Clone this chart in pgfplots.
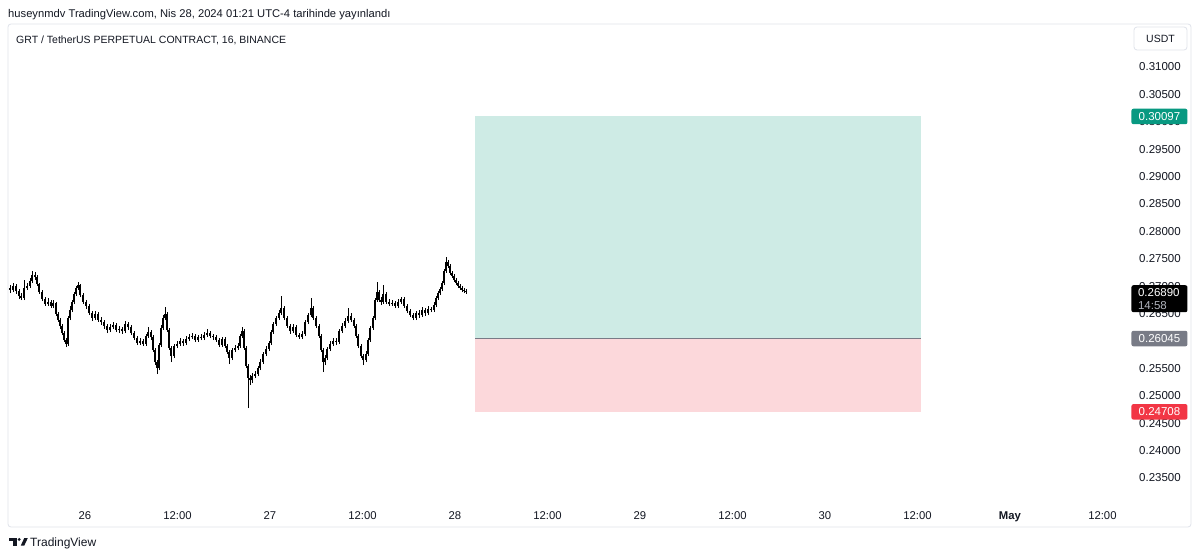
\documentclass[border=0pt]{standalone}
\usepackage{pgfplots}
\usepackage{pgfplotstable}
\usepackage{fontspec}
\setmainfont{Liberation Sans}
\pgfplotsset{compat=1.18}
\definecolor{tgtfill}{RGB}{206,235,229}
\definecolor{stopfill}{RGB}{252,216,219}
\definecolor{entrygray}{RGB}{120,123,134}
\definecolor{tagred}{RGB}{242,54,69}
\definecolor{taggreen}{RGB}{8,153,129}
\definecolor{txt}{RGB}{19,23,34}
\definecolor{frame}{RGB}{224,227,235}
\definecolor{subgray}{RGB}{178,181,190}

\pgfplotstableread{
t o h l c
-9.73 0.26967 0.27022 0.26876 0.26931
-9.34 0.26931 0.27058 0.26894 0.27004
-8.95 0.27004 0.27040 0.26858 0.26912
-8.56 0.26912 0.26949 0.26766 0.26821
-8.30 0.26821 0.26876 0.26748 0.26785
-7.91 0.26785 0.27113 0.26748 0.26967
-7.52 0.26967 0.27058 0.26931 0.27004
-7.14 0.27004 0.27150 0.26967 0.27095
-6.88 0.27095 0.27277 0.27058 0.27204
-6.49 0.27204 0.27259 0.27113 0.27168
-6.23 0.27168 0.27204 0.27004 0.27040
-5.97 0.27040 0.27058 0.26858 0.26894
-5.58 0.26894 0.26931 0.26730 0.26766
-5.19 0.26766 0.26803 0.26639 0.26675
-4.80 0.26675 0.26785 0.26639 0.26712
-4.41 0.26712 0.26748 0.26602 0.26639
-4.15 0.26639 0.26748 0.26602 0.26693
-3.76 0.26693 0.26712 0.26456 0.26493
-3.50 0.26493 0.26529 0.26347 0.26383
-3.24 0.26383 0.26420 0.26219 0.26274
-2.98 0.26274 0.26310 0.26109 0.26146
-2.72 0.26146 0.26182 0.25982 0.26018
-2.47 0.26018 0.26055 0.25890 0.25945
-2.21 0.25945 0.26456 0.25909 0.26420
-1.95 0.26420 0.26639 0.26383 0.26566
-1.69 0.26566 0.26748 0.26529 0.26712
-1.43 0.26712 0.26894 0.26675 0.26858
-1.17 0.26858 0.27004 0.26821 0.26967
-0.91 0.26967 0.27077 0.26931 0.27022
-0.65 0.27022 0.27040 0.26803 0.26839
-0.26 0.26839 0.26876 0.26675 0.26712
0.13 0.26712 0.26748 0.26584 0.26639
0.52 0.26639 0.26675 0.26474 0.26511
0.91 0.26511 0.26547 0.26365 0.26420
1.30 0.26420 0.26547 0.26383 0.26493
1.69 0.26493 0.26529 0.26347 0.26383
2.08 0.26383 0.26438 0.26292 0.26347
2.47 0.26347 0.26383 0.26219 0.26274
2.85 0.26274 0.26310 0.26146 0.26201
3.24 0.26201 0.26310 0.26164 0.26255
3.63 0.26255 0.26347 0.26219 0.26292
4.02 0.26292 0.26328 0.26164 0.26201
4.41 0.26201 0.26274 0.26146 0.26219
4.80 0.26219 0.26255 0.26128 0.26182
5.19 0.26182 0.26365 0.26146 0.26310
5.58 0.26310 0.26347 0.26201 0.26255
5.97 0.26255 0.26292 0.26109 0.26146
6.36 0.26146 0.26182 0.26018 0.26055
6.75 0.26055 0.26091 0.25927 0.25963
7.14 0.25963 0.26055 0.25927 0.26000
7.52 0.26000 0.26036 0.25909 0.25945
7.91 0.25945 0.26128 0.25909 0.26091
8.17 0.26091 0.26255 0.26055 0.26164
8.56 0.26164 0.26201 0.26018 0.26073
8.82 0.26073 0.26109 0.25799 0.25836
9.08 0.25836 0.25872 0.25562 0.25617
9.34 0.25617 0.25653 0.25398 0.25507
9.60 0.25507 0.25963 0.25471 0.25927
9.86 0.25927 0.26292 0.25890 0.26237
10.12 0.26237 0.26474 0.26201 0.26420
10.38 0.26420 0.26620 0.26383 0.26493
10.64 0.26493 0.26529 0.26164 0.26201
10.90 0.26201 0.26237 0.25836 0.25872
11.16 0.25872 0.25909 0.25617 0.25726
11.55 0.25726 0.25945 0.25690 0.25909
11.94 0.25909 0.26000 0.25872 0.25945
12.33 0.25945 0.26055 0.25909 0.26000
12.71 0.26000 0.26036 0.25909 0.25963
13.10 0.25963 0.26091 0.25927 0.26036
13.49 0.26036 0.26128 0.26000 0.26073
13.88 0.26073 0.26146 0.26036 0.26091
14.27 0.26091 0.26128 0.25982 0.26018
14.66 0.26018 0.26109 0.25982 0.26073
15.05 0.26073 0.26128 0.26018 0.26055
15.44 0.26055 0.26164 0.26018 0.26109
15.83 0.26109 0.26219 0.26073 0.26146
16.22 0.26146 0.26182 0.26055 0.26091
16.61 0.26091 0.26128 0.26018 0.26073
17.00 0.26073 0.26109 0.25982 0.26018
17.39 0.26018 0.26055 0.25890 0.25927
17.77 0.25927 0.26073 0.25890 0.26036
18.16 0.26036 0.26073 0.25872 0.25909
18.42 0.25909 0.25945 0.25763 0.25799
18.68 0.25799 0.25836 0.25580 0.25690
19.07 0.25690 0.25872 0.25653 0.25836
19.46 0.25836 0.25927 0.25799 0.25872
19.85 0.25872 0.25963 0.25836 0.25909
20.11 0.25909 0.26128 0.25872 0.26091
20.37 0.26091 0.26255 0.26055 0.26182
20.63 0.26182 0.26219 0.25836 0.25872
20.89 0.25872 0.25909 0.25507 0.25544
21.15 0.25544 0.25580 0.24777 0.25325
21.41 0.25325 0.25379 0.25197 0.25288
21.67 0.25288 0.25416 0.25233 0.25361
22.06 0.25361 0.25452 0.25325 0.25398
22.45 0.25398 0.25544 0.25361 0.25507
22.70 0.25507 0.25671 0.25471 0.25617
23.09 0.25617 0.25799 0.25580 0.25763
23.48 0.25763 0.25909 0.25726 0.25854
23.87 0.25854 0.26000 0.25817 0.25963
24.13 0.25963 0.26201 0.25927 0.26164
24.39 0.26164 0.26347 0.26128 0.26310
24.78 0.26310 0.26456 0.26274 0.26420
25.17 0.26420 0.26566 0.26383 0.26511
25.43 0.26511 0.26821 0.26474 0.26602
25.82 0.26602 0.26639 0.26383 0.26420
26.21 0.26420 0.26456 0.26237 0.26274
26.60 0.26274 0.26310 0.26128 0.26182
26.99 0.26182 0.26310 0.26146 0.26255
27.38 0.26255 0.26292 0.26073 0.26109
27.76 0.26109 0.26146 0.26036 0.26073
28.15 0.26073 0.26182 0.26036 0.26128
28.54 0.26128 0.26383 0.26091 0.26347
28.93 0.26347 0.26511 0.26310 0.26474
29.32 0.26474 0.26785 0.26438 0.26602
29.58 0.26602 0.26639 0.26383 0.26420
29.97 0.26420 0.26456 0.26237 0.26274
30.36 0.26274 0.26310 0.26055 0.26091
30.62 0.26091 0.26128 0.25799 0.25836
30.88 0.25836 0.25872 0.25434 0.25617
31.14 0.25617 0.25744 0.25562 0.25690
31.40 0.25690 0.25890 0.25653 0.25854
31.79 0.25854 0.26000 0.25817 0.25945
32.18 0.25945 0.26055 0.25909 0.26000
32.56 0.26000 0.26055 0.25927 0.25982
32.95 0.25982 0.26219 0.25945 0.26182
33.34 0.26182 0.26328 0.26146 0.26274
33.73 0.26274 0.26420 0.26237 0.26365
34.12 0.26365 0.26602 0.26328 0.26456
34.51 0.26456 0.26511 0.26347 0.26383
34.90 0.26383 0.26420 0.26237 0.26274
35.16 0.26274 0.26310 0.26055 0.26091
35.42 0.26091 0.26128 0.25872 0.25909
35.81 0.25909 0.25945 0.25690 0.25726
36.07 0.25726 0.25763 0.25562 0.25653
36.46 0.25653 0.25817 0.25617 0.25763
36.72 0.25763 0.26055 0.25726 0.26018
36.98 0.26018 0.26274 0.25982 0.26237
37.37 0.26237 0.26456 0.26201 0.26420
37.62 0.26420 0.26785 0.26383 0.26748
37.88 0.26748 0.27077 0.26712 0.26894
38.14 0.26894 0.26931 0.26712 0.26748
38.40 0.26748 0.26803 0.26657 0.26712
38.66 0.26712 0.27022 0.26675 0.26858
39.05 0.26858 0.26894 0.26675 0.26712
39.44 0.26712 0.26766 0.26639 0.26675
39.83 0.26675 0.26748 0.26639 0.26693
40.22 0.26693 0.26730 0.26602 0.26639
40.61 0.26639 0.26766 0.26602 0.26712
41.00 0.26712 0.26803 0.26675 0.26766
41.39 0.26766 0.26803 0.26602 0.26639
41.78 0.26639 0.26675 0.26511 0.26547
42.17 0.26547 0.26584 0.26438 0.26474
42.55 0.26474 0.26511 0.26383 0.26420
42.94 0.26420 0.26547 0.26383 0.26511
43.33 0.26511 0.26566 0.26420 0.26474
43.72 0.26474 0.26620 0.26438 0.26566
44.11 0.26566 0.26602 0.26456 0.26511
44.50 0.26511 0.26639 0.26474 0.26584
44.89 0.26584 0.26620 0.26529 0.26566
45.28 0.26566 0.26712 0.26529 0.26657
45.54 0.26657 0.26821 0.26620 0.26785
45.80 0.26785 0.26912 0.26748 0.26876
46.06 0.26876 0.26985 0.26839 0.26949
46.32 0.26949 0.27095 0.26912 0.27058
46.58 0.27058 0.27314 0.27022 0.27277
46.84 0.27277 0.27533 0.27241 0.27442
47.10 0.27442 0.27478 0.27332 0.27369
47.36 0.27369 0.27405 0.27204 0.27241
47.61 0.27241 0.27277 0.27150 0.27186
47.87 0.27186 0.27223 0.27077 0.27113
48.13 0.27113 0.27150 0.27022 0.27058
48.39 0.27058 0.27095 0.26967 0.27004
48.65 0.27004 0.27040 0.26931 0.26967
48.91 0.26967 0.27004 0.26894 0.26931
49.17 0.26931 0.26967 0.26876 0.26912
49.43 0.26912 0.26949 0.26858 0.26890
}\candles

\begin{document}
\begin{tikzpicture}[font=\fontsize{11.5}{13}\selectfont]
\useasboundingbox (0,0) rectangle (1200pt,558pt);
\fill[white] (0,0) rectangle (1200pt,558pt);
% pane frame
\draw[frame, line width=0.8pt, rounded corners=3pt] (8pt,31pt) rectangle (1191pt,534pt);
% header
\node[anchor=base west, inner sep=0pt, text=txt, font=\fontsize{11.2}{13}\selectfont] at (8pt,540pt)
  {huseynmdv TradingView.com, Nis 28, 2024 01:21 UTC-4 tarihinde yayınlandı};
\node[anchor=base west, inner sep=0pt, text=txt, font=\fontsize{10.5}{12}\selectfont] at (16pt,514.5pt)
  {GRT / TetherUS PERPETUAL CONTRACT, 16, BINANCE};
% USDT button
\draw[frame, line width=0.8pt, rounded corners=3pt] (1134pt,508pt) rectangle (1187pt,531pt);
\node[text=txt, font=\fontsize{10.5}{12}\selectfont] at (1160.5pt,519.5pt) {USDT};
% footer logo
\fill[txt] (9pt,20pt) rectangle (16.5pt,17pt);
\fill[txt] (13.3pt,20pt) rectangle (16.5pt,12.5pt);
\fill[txt] (19.2pt,18.6pt) circle (1.6pt);
\fill[txt] (20.8pt,12.5pt) -- (24.3pt,20pt) -- (27.8pt,20pt) -- (24.3pt,12.5pt) -- cycle;
\node[anchor=base west, inner sep=0pt, text=txt, font=\fontsize{12}{14}\selectfont] at (30pt,11.5pt) {TradingView};

\begin{axis}[
  at={(8pt,58pt)}, anchor=south west,
  width=1115pt, height=475pt, scale only axis,
  xmin=-9.99, xmax=134.67,
  ymin=0.23099, ymax=0.31766,
  clip=false,
  axis line style={draw=none},
  tick style={draw=none},
  major tick length=0pt,
  xtick={0,12,24,36,48,60,72,84,96,108,120,132},
  xticklabels={26,12:00,27,12:00,28,12:00,29,12:00,30,12:00,\textbf{May},12:00},
  x tick label style={anchor=base, yshift=-19pt, inner sep=0pt, text=txt, font=\fontsize{11.3}{13}\selectfont},
  ytick={0.235,0.240,0.245,0.250,0.255,0.260,0.265,0.270,0.275,0.280,0.285,0.290,0.295,0.300,0.305,0.310},
  ytick pos=right,
  yticklabel pos=right,
  /pgf/number format/assume math mode=true,
  y tick label style={anchor=west, xshift=16pt, inner sep=0pt, text=txt,
    font=\fontsize{11.5}{13}\selectfont,
    /pgf/number format/.cd, fixed, fixed zerofill, precision=5},
  scaled y ticks=false,
]
% position tool
\addplot[fill=tgtfill, draw=none, forget plot] coordinates
  {(50.60,0.26045) (108.46,0.26045) (108.46,0.30097) (50.60,0.30097)} -- cycle;
\addplot[fill=stopfill, draw=none, forget plot] coordinates
  {(50.60,0.24708) (108.46,0.24708) (108.46,0.26045) (50.60,0.26045)} -- cycle;
\addplot[entrygray, line width=1pt, forget plot] coordinates {(50.60,0.26045) (108.46,0.26045)};
% wicks
\addplot[draw=none, mark=none, forget plot,
  error bars/.cd, y dir=plus, y explicit, error mark=none,
  error bar style={draw=black, line width=0.6pt}]
  table[x=t, y=l, y error plus expr={\thisrow{h}-\thisrow{l}}] {\candles};
% bodies
\addplot[draw=none, mark=none, forget plot,
  error bars/.cd, y dir=plus, y explicit, error mark=none,
  error bar style={draw=black, line width=1.6pt}]
  table[x=t, y expr={min(\thisrow{o},\thisrow{c})},
        y error plus expr={max(abs(\thisrow{c}-\thisrow{o}),0.00009)}] {\candles};
% price tags
\node[fill=taggreen, text=white, inner sep=0pt, minimum width=56pt, minimum height=15.5pt, rounded corners=2pt]
  at (axis cs:139.4,0.30097) {0.30097};
\node[fill=black, inner sep=0pt, minimum width=56pt, minimum height=27pt, rounded corners=2pt, yshift=-6.5pt]
  at (axis cs:139.4,0.26890) {};
\node[text=white, inner sep=0pt, anchor=west, xshift=0pt] at (axis cs:136.6,0.26890) {0.26890};
\node[text=subgray, inner sep=0pt, anchor=west, yshift=-13pt] at (axis cs:136.6,0.26890) {14:58};
\node[fill=entrygray, text=white, inner sep=0pt, minimum width=56pt, minimum height=15.5pt, rounded corners=2pt]
  at (axis cs:139.4,0.26045) {0.26045};
\node[fill=tagred, text=white, inner sep=0pt, minimum width=56pt, minimum height=15.5pt, rounded corners=2pt]
  at (axis cs:139.4,0.24708) {0.24708};
\end{axis}
\end{tikzpicture}
\end{document}
